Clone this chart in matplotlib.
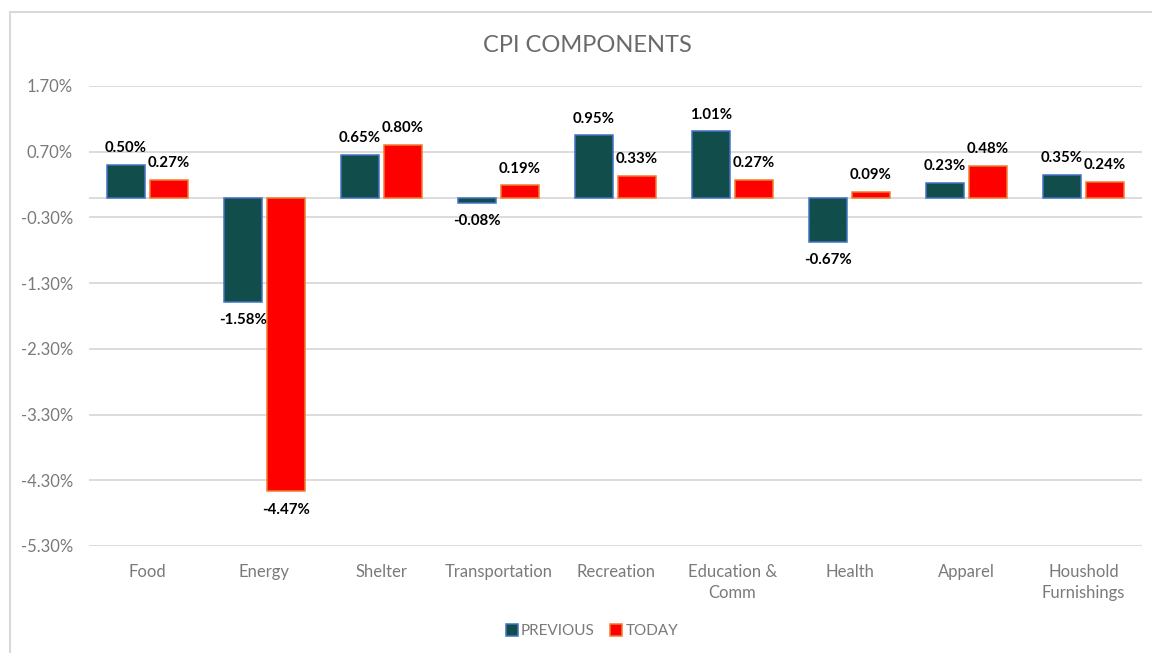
import matplotlib
matplotlib.use("Agg")
import matplotlib.pyplot as plt
from matplotlib.lines import Line2D
from matplotlib.patches import Patch
import numpy as np

categories = ["Food", "Energy", "Shelter", "Transportation", "Recreation",
              "Education &\nComm", "Health", "Apparel", "Houshold\nFurnishings"]
previous = [0.50, -1.58, 0.65, -0.08, 0.95, 1.01, -0.67, 0.23, 0.35]
today = [0.27, -4.47, 0.80, 0.19, 0.33, 0.27, 0.09, 0.48, 0.24]
yticks = [1.70, 0.70, -0.30, -1.30, -2.30, -3.30, -4.30, -5.30]
title = "CPI COMPONENTS"
series_names = ["PREVIOUS", "TODAY"]

plt.rcParams['font.family'] = ['Lato', 'DejaVu Sans']

W, H = 1152, 653
fig = plt.figure(figsize=(W / 100, H / 100), dpi=100)
ax = fig.add_axes([89 / W, (H - 546) / H, (1142 - 89) / W, (546 - 86) / H])

grey = "#7A7A7A"
gridc = "#D9D9D9"
c_prev, e_prev = "#114E4B", "#4472C4"
c_today, e_today = "#FF0000", "#ED7D31"

x = np.arange(len(categories))
w = 0.325
off = 0.184
b1 = ax.bar(x - off, previous, w, color=c_prev, edgecolor=e_prev, linewidth=1.1, zorder=3)
b2 = ax.bar(x + off, today, w, color=c_today, edgecolor=e_today, linewidth=1.1, zorder=3)

for bars, vals in ((b1, previous), (b2, today)):
    for rect, v in zip(bars, vals):
        cx = rect.get_x() + rect.get_width() / 2
        if v >= 0:
            ax.annotate(f"{v:.2f}%", (cx, v), xytext=(0, 7), textcoords="offset points",
                        ha="center", va="bottom", fontsize=10.8, fontweight="bold", color="black")
        else:
            ax.annotate(f"{v:.2f}%", (cx, v), xytext=(0, -8), textcoords="offset points",
                        ha="center", va="top", fontsize=10.8, fontweight="bold", color="black")

ax.set_xlim(-0.5, len(categories) - 0.5)
ax.set_ylim(min(yticks), max(yticks))
ax.set_yticks(yticks)
ax.set_yticklabels([f"{t:.2f}%" for t in yticks])
ax.set_xticks(x)
ax.set_xticklabels(categories, linespacing=1.4)
ax.tick_params(axis="both", length=0, colors=grey, labelsize=12)
ax.tick_params(axis="y", pad=11.5)
ax.tick_params(axis="x", pad=13)
for lab in ax.get_xticklabels():
    lab.set_va("top")
ax.grid(axis="y", color=gridc, linewidth=1.3, zorder=0)
ax.axhline(0, color=gridc, linewidth=1.3, zorder=1)
for s in ax.spines.values():
    s.set_visible(False)

fig.text(587 / W, 1 - 46 / H, title, ha="center", va="center", fontsize=17, color="#6A6A6A")

handles = [Patch(facecolor=c_prev, edgecolor=e_prev, linewidth=1.1),
           Patch(facecolor=c_today, edgecolor=e_today, linewidth=1.1)]
fig.legend(handles, series_names, loc="center", bbox_to_anchor=(592 / W, 1 - 631 / H),
           ncol=2, frameon=False, fontsize=11, labelcolor=grey, handlelength=0.8,
           handleheight=0.8, handletextpad=0.2, columnspacing=1.0)

fig.add_artist(Line2D([10 / W, 1.0], [1 - 12 / H, 1 - 12 / H], transform=fig.transFigure,
                      color=gridc, linewidth=1.5))
fig.add_artist(Line2D([10 / W, 10 / W], [0, 1 - 12 / H], transform=fig.transFigure,
                      color=gridc, linewidth=1.5))

fig.savefig("out.png", dpi=100, facecolor="white")
